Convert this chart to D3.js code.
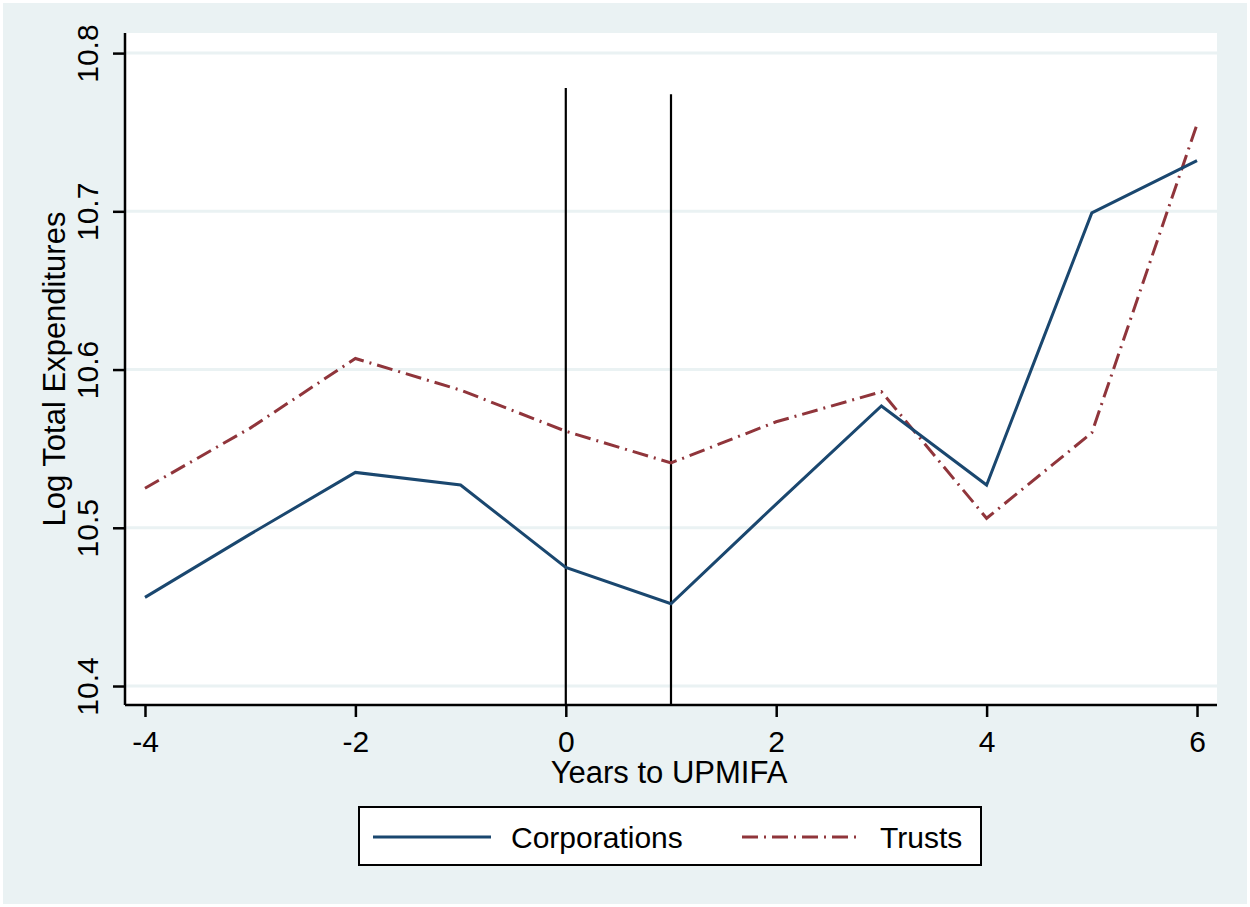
<!DOCTYPE html>
<html lang="en">
<head>
<meta charset="UTF-8">
<title>Log Total Expenditures</title>
<script src="https://cdnjs.cloudflare.com/ajax/libs/d3/7.8.5/d3.min.js"></script>
<style>
  body { margin: 0; padding: 0; background: #ffffff; }
  svg { display: block; font-family: 'Liberation Sans', Arial, sans-serif; }
</style>
</head>
<body>
<div id="chart"></div>
<script>
// Data
const years = [-4, -3, -2, -1, 0, 1, 2, 3, 4, 5, 6];
const corporations = [10.456, 10.496, 10.535, 10.527, 10.475, 10.452, 10.515, 10.577, 10.527, 10.699, 10.732];
const trusts = [10.525, 10.563, 10.607, 10.587, 10.561, 10.541, 10.567, 10.586, 10.506, 10.560, 10.755];
const xTicks = [-4, -2, 0, 2, 4, 6];
const yTicks = [10.4, 10.5, 10.6, 10.7, 10.8];
const eventLines = [{ x: 0, top: 10.778 }, { x: 1, top: 10.774 }];
const seriesNames = ["Corporations", "Trusts"];

const width = 1250, height = 907;
const plot = { left: 125, right: 1217, top: 33, bottom: 705 };
const fontSize = 30;
const dashDot = "16 6 2 6";

const svg = d3.select("#chart").append("svg")
  .attr("width", width).attr("height", height);

// outer background
svg.append("rect").attr("x", 3).attr("y", 3)
  .attr("width", width - 6).attr("height", height - 6)
  .attr("fill", "#eaf2f3");

// plot area
svg.append("rect").attr("x", plot.left).attr("y", plot.top)
  .attr("width", plot.right - plot.left).attr("height", plot.bottom - plot.top)
  .attr("fill", "#ffffff");

const x = d3.scaleLinear().domain([-4.19, 6.19]).range([plot.left, plot.right]);
const y = d3.scaleLinear().domain([10.388, 10.8127]).range([plot.bottom, plot.top]);

// plain hyphen for negatives, like the original
const fmtX = d => (d < 0 ? "-" : "") + Math.abs(d);

// grid lines
svg.append("g").selectAll("line").data(yTicks).join("line")
  .attr("x1", plot.left).attr("x2", plot.right)
  .attr("y1", d => y(d)).attr("y2", d => y(d))
  .attr("stroke", "#eaf2f3").attr("stroke-width", 3);

// y axis
const yAxis = svg.append("g").attr("transform", `translate(${plot.left},0)`)
  .call(d3.axisLeft(y).tickValues(yTicks).tickFormat(d3.format(".1f")).tickSize(12));
yAxis.select(".domain").attr("stroke", "#000").attr("stroke-width", 2.5)
  .attr("d", `M0,${plot.top}V${plot.bottom}`);
yAxis.selectAll(".tick line").attr("stroke", "#000").attr("stroke-width", 2.5);
yAxis.selectAll(".tick text")
  .attr("font-size", fontSize).attr("fill", "#000")
  .attr("text-anchor", "middle")
  .attr("transform", "rotate(-90)")
  .attr("x", 0).attr("y", -27).attr("dy", "0");

// x axis
const xAxis = svg.append("g").attr("transform", `translate(0,${plot.bottom})`)
  .call(d3.axisBottom(x).tickValues(xTicks).tickFormat(fmtX).tickSize(12).tickPadding(14));
xAxis.select(".domain").attr("stroke", "#000").attr("stroke-width", 2.5)
  .attr("d", `M${plot.left},0H${plot.right}`);
xAxis.selectAll(".tick line").attr("stroke", "#000").attr("stroke-width", 2.5);
xAxis.selectAll(".tick text").attr("font-size", fontSize).attr("fill", "#000");

// axis titles
svg.append("text")
  .attr("transform", `translate(65,${(plot.top + plot.bottom) / 2}) rotate(-90)`)
  .attr("text-anchor", "middle").attr("font-size", 31).attr("fill", "#000")
  .text("Log Total Expenditures");
svg.append("text")
  .attr("x", (plot.left + plot.right) / 2 - 2).attr("y", 783)
  .attr("text-anchor", "middle").attr("font-size", 31).attr("fill", "#000")
  .text("Years to UPMIFA");

// event lines
svg.append("g").selectAll("line").data(eventLines).join("line")
  .attr("x1", d => x(d.x)).attr("x2", d => x(d.x))
  .attr("y1", d => y(d.top)).attr("y2", plot.bottom)
  .attr("stroke", "#000").attr("stroke-width", 2.2);

// series
const line = d3.line().x((d, i) => x(years[i])).y(d => y(d));
svg.append("path").datum(trusts)
  .attr("d", line).attr("fill", "none")
  .attr("stroke", "#90353b").attr("stroke-width", 3)
  .attr("stroke-dasharray", dashDot);
svg.append("path").datum(corporations)
  .attr("d", line).attr("fill", "none")
  .attr("stroke", "#1a476f").attr("stroke-width", 3);

// legend
const legend = svg.append("g");
legend.append("rect").attr("x", 359).attr("y", 807).attr("width", 622).attr("height", 58)
  .attr("fill", "#fff").attr("stroke", "#000").attr("stroke-width", 2);
const legendItems = [
  { name: seriesNames[0], color: "#1a476f", dash: null, x0: 373, tx: 511 },
  { name: seriesNames[1], color: "#90353b", dash: dashDot, x0: 742, tx: 880 }
];
legendItems.forEach(it => {
  legend.append("line").attr("x1", it.x0).attr("x2", it.x0 + 118)
    .attr("y1", 837).attr("y2", 837)
    .attr("stroke", it.color).attr("stroke-width", 3)
    .attr("stroke-dasharray", it.dash);
  legend.append("text").attr("x", it.tx).attr("y", 848)
    .attr("font-size", fontSize).attr("fill", "#000").text(it.name);
});
</script>
</body>
</html>
